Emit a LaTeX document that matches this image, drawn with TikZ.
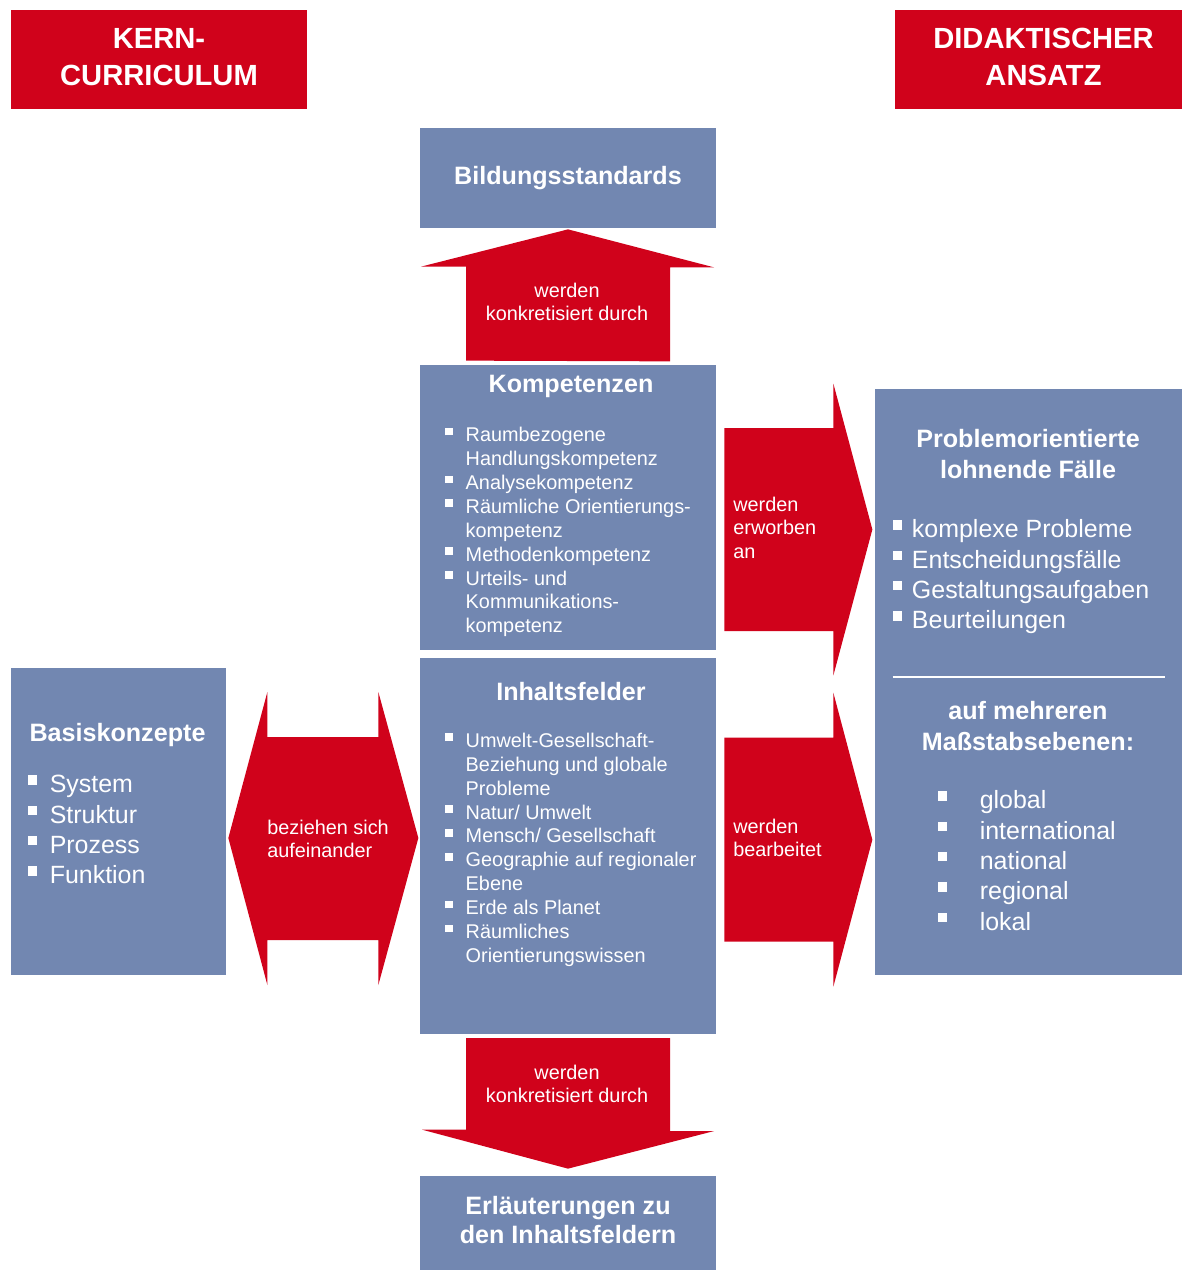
\documentclass[tikz,border=0pt]{standalone}
\usepackage{fontspec}
\setmainfont{Liberation Sans}
\usetikzlibrary{positioning,calc}
\definecolor{kcblau}{RGB}{114,135,177}
\definecolor{kcrot}{RGB}{208,2,27}
\newcommand{\kaestchen}{\rule[0.32em]{0.38em}{0.38em}}

\begin{document}
\begin{tikzpicture}[
    font=\normalfont,
    kasten/.style={
        rectangle,
        fill=kcblau,
        inner sep=0pt,
        text=white,
        text centered,
        font=\fontsize{14.3}{16.4}\selectfont\bfseries
    },
    kopf/.style={
        rectangle,
        fill=kcrot,
        inner sep=0pt,
        text=white,
        text centered,
        minimum width=5.93cm,
        minimum height=1.98cm,
        font=\fontsize{16.6}{20.8}\selectfont\bfseries
    },
    titel/.style={
        inner sep=0pt,
        text=white,
        anchor=base,
        font=\fontsize{14.3}{17.4}\selectfont\bfseries
    },
    liste/.style={
        inner sep=0pt,
        text=white,
        anchor=base west,
        font=\fontsize{11.3}{13.6}\selectfont
    },
    listegross/.style={
        inner sep=0pt,
        text=white,
        anchor=base west,
        font=\fontsize{14.2}{17.3}\selectfont
    },
    pfeil/.style={
        fill=kcrot,
        draw=none
    },
    pfeiltext/.style={
        inner sep=0pt,
        text=white,
        font=\fontsize{11.3}{13.6}\selectfont
    }
  ]

\useasboundingbox (0,0) rectangle (23.64,-25.40);

% // Kopfzeilen
\node [kopf] (kern) at (3.18,-1.19)
 {\begin{tabular}{@{}c@{}}KERN-\\CURRICULUM\end{tabular}};
\node [kopf] (didaktik) at (20.87,-1.19)
 {\begin{tabular}{@{}c@{}}DIDAKTISCHER\\ANSATZ\end{tabular}};

% // Mittelspalte
\node [kasten, minimum width=5.92cm, minimum height=2cm] (bild) at (11.36,-3.56) {Bildungsstandards};
\node [kasten, minimum width=5.92cm, minimum height=5.7cm] (komp) at (11.36,-10.15) {};
\node [kasten, below=0.14cm of komp, minimum width=5.92cm, minimum height=7.52cm] (inhalt) {};
\node [kasten, minimum width=5.92cm, minimum height=1.88cm] (erl) at (11.36,-24.46)
 {\begin{tabular}{@{}c@{}}Erläuterungen zu\\den Inhaltsfeldern\end{tabular}};

% // links und rechts
\node [kasten, minimum width=4.30cm, minimum height=6.14cm] (basis) at (2.37,-16.43) {};
\node [kasten, minimum width=6.14cm, minimum height=11.72cm] (prob) at (20.57,-13.64) {};

% Kompetenzen
\node [titel] (kompT) at ([xshift=0.06cm,yshift=-0.56cm]komp.north) {Kompetenzen};
\node [liste] (kompL) at ([xshift=0.50cm,yshift=-1.54cm]komp.north west)
 {%
 \begin{tabular}[t]{@{}l@{\hspace{7.5pt}}l@{}}
  \kaestchen & Raumbezogene\\
             & Handlungskompetenz\\
  \kaestchen & Analysekompetenz\\
  \kaestchen & Räumliche Orientierungs-\\
             & kompetenz\\
  \kaestchen & Methodenkompetenz\\
  \kaestchen & Urteils- und\\
             & Kommunikations-\\
             & kompetenz
 \end{tabular}
 };

% Inhaltsfelder
\node [titel] (inhaltT) at ([xshift=0.06cm,yshift=-0.86cm]inhalt.north) {Inhaltsfelder};
\node [liste] (inhaltL) at ([xshift=0.50cm,yshift=-1.80cm]inhalt.north west)
 {%
 \begin{tabular}[t]{@{}l@{\hspace{7.5pt}}l@{}}
  \kaestchen & Umwelt-Gesellschaft-\\
             & Beziehung und globale\\
             & Probleme\\
  \kaestchen & Natur/ Umwelt\\
  \kaestchen & Mensch/ Gesellschaft\\
  \kaestchen & Geographie auf regionaler\\
             & Ebene\\
  \kaestchen & Erde als Planet\\
  \kaestchen & Räumliches\\
             & Orientierungswissen
 \end{tabular}
 };

% Basiskonzepte
\node [titel] (basisT) at ([xshift=-0.02cm,yshift=-1.48cm]basis.north) {Basiskonzepte};
\node [listegross] (basisL) at ([xshift=0.34cm,yshift=-2.50cm]basis.north west)
 {%
 \begin{tabular}[t]{@{}l@{\hspace{7pt}}l@{}}
  \kaestchen & System\\
  \kaestchen & Struktur\\
  \kaestchen & Prozess\\
  \kaestchen & Funktion
 \end{tabular}
 };

% Problemorientierte Faelle
\node [titel] (probT) at ([xshift=-0.01cm,yshift=-1.18cm]prob.north)
 {\begin{tabular}[t]{@{}c@{}}Problemorientierte\\lohnende Fälle\end{tabular}};
\node [listegross] (probL) at ([xshift=0.36cm,yshift=-2.98cm]prob.north west)
 {%
 \begin{tabular}[t]{@{}l@{\hspace{5.4pt}}l@{}}
  \kaestchen & komplexe Probleme\\
  \kaestchen & Entscheidungsfälle\\
  \kaestchen & Gestaltungsaufgaben\\
  \kaestchen & Beurteilungen
 \end{tabular}
 };
\draw [white, line width=1.1pt] ([xshift=0.36cm,yshift=0.10cm]prob.west) -- ([xshift=-0.34cm,yshift=0.10cm]prob.east);
\node [titel] (massT) at ([xshift=-0.01cm,yshift=-6.62cm]prob.north)
 {\begin{tabular}[t]{@{}c@{}}auf mehreren\\Maßstabsebenen:\end{tabular}};
\node [listegross] (massL) at ([xshift=1.26cm,yshift=-8.40cm]prob.north west)
 {%
 \begin{tabular}[t]{@{}l@{\hspace{18.4pt}}l@{}}
  \kaestchen & global\\
  \kaestchen & international\\
  \kaestchen & national\\
  \kaestchen & regional\\
  \kaestchen & lokal
 \end{tabular}
 };

% // Die Pfeile
\fill [pfeil] ([xshift=-2.04cm,yshift=0.08cm]komp.north) -- ++(0,1.88) -- ++(-0.90,0)
  -- ([yshift=-0.02cm]bild.south) -- ++(2.92,-0.76) -- ++(-0.88,0) -- ++(0,-1.88) -- cycle;
\fill [pfeil] ([xshift=-2.04cm,yshift=-0.08cm]inhalt.south) -- ++(4.08,0) -- ++(0,-1.86) -- ++(0.88,0)
  -- ([yshift=0.14cm]erl.north) -- ++(-2.92,0.78) -- ++(0.88,0) -- cycle;
\fill [pfeil] ([xshift=0.16cm,yshift=1.59cm]komp.east) -- ++(2.18,0) -- ++(0,0.89)
  -- ++(0.78,-2.92) -- ++(-0.78,-2.92) -- ++(0,0.89) -- ++(-2.18,0) -- cycle;
\fill [pfeil] ([xshift=0.16cm,yshift=2.16cm]inhalt.east) -- ++(2.18,0) -- ++(0,0.90)
  -- ++(0.78,-2.94) -- ++(-0.78,-2.94) -- ++(0,0.90) -- ++(-2.18,0) -- cycle;
\fill [pfeil] ([xshift=0.04cm,yshift=-0.33cm]basis.east) -- ++(0.78,2.92) -- ++(0,-0.90) -- ++(2.22,0)
  -- ++(0,0.90) -- ++(0.80,-2.92) -- ++(-0.80,-2.94) -- ++(0,0.90) -- ++(-2.22,0) -- ++(0,-0.90) -- cycle;

% Pfeiltexte
\node [pfeiltext, anchor=base] (hochT) at (11.34,-5.94)
 {\begin{tabular}[t]{@{}c@{}}werden\\konkretisiert durch\end{tabular}};
\node [pfeiltext, anchor=base] (runterT) at (11.34,-21.58)
 {\begin{tabular}[t]{@{}c@{}}werden\\konkretisiert durch\end{tabular}};
\node [pfeiltext, anchor=base west] (erwT) at (14.66,-10.22)
 {\begin{tabular}[t]{@{}l@{}}werden\\erworben\\an\end{tabular}};
\node [pfeiltext, anchor=base west] (bearbT) at (14.66,-16.66)
 {\begin{tabular}[t]{@{}l@{}}werden\\bearbeitet\end{tabular}};
\node [pfeiltext, anchor=base west] (bezT) at (5.34,-16.68)
 {\begin{tabular}[t]{@{}l@{}}beziehen sich\\aufeinander\end{tabular}};

\end{tikzpicture}
\end{document}
